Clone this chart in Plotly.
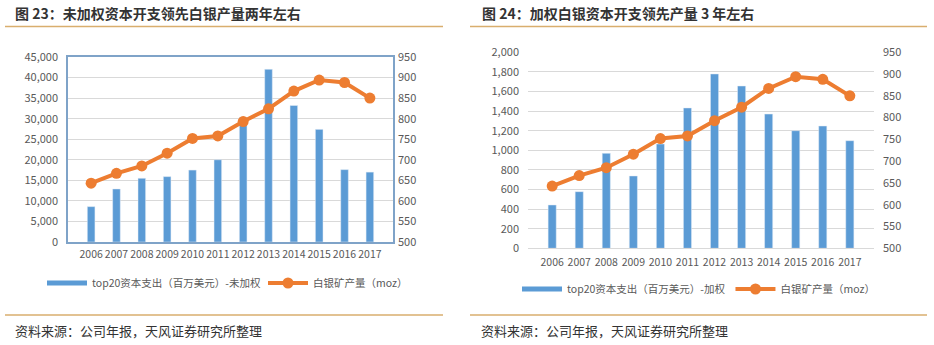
import plotly.graph_objects as go

years = ["2006", "2007", "2008", "2009", "2010", "2011", "2012", "2013", "2014", "2015", "2016", "2017"]
capex_unweighted = [8600, 12900, 15500, 15900, 17500, 20000, 30300, 42000, 33200, 27400, 17600, 17000]
capex_weighted = [442, 578, 969, 738, 1064, 1432, 1779, 1656, 1370, 1200, 1248, 1098]
silver_output = [643, 667, 685, 716, 752, 758, 793, 824, 867, 894, 888, 850]

title_left = "图 23：未加权资本开支领先白银产量两年左右"
title_right = "图 24：加权白银资本开支领先产量 3 年左右"
source_text = "资料来源：公司年报，天风证券研究所整理"
bar_name_left = "top20资本支出（百万美元）-未加权"
bar_name_right = "top20资本支出（百万美元）-加权"
line_name = "白银矿产量（moz）"

W, H = 934, 345
BLUE = "#5B9BD5"
ORANGE = "#ED7D31"
GRID = "#D9D9D9"
TICK = "#595959"
GOLD = "#D9AE6E"
FONT = "Noto Sans CJK SC"

def px(x):
    return x / W

def py(y):
    return 1 - y / H

fig = go.Figure()

# Left chart
fig.add_trace(go.Bar(x=years, y=capex_unweighted, marker_color=BLUE, showlegend=False,
                     xaxis="x", yaxis="y"))
fig.add_trace(go.Scatter(x=[None], y=[None], mode="lines", line=dict(color=BLUE, width=5),
                         name=bar_name_left, legend="legend", xaxis="x", yaxis="y"))
fig.add_trace(go.Scatter(x=years, y=silver_output, mode="lines+markers", name=line_name,
                         line=dict(color=ORANGE, width=4), marker=dict(size=11, color=ORANGE),
                         legend="legend", xaxis="x", yaxis="y2"))

# Right chart
fig.add_trace(go.Bar(x=years, y=capex_weighted, marker_color=BLUE, showlegend=False,
                     xaxis="x2", yaxis="y3"))
fig.add_trace(go.Scatter(x=[None], y=[None], mode="lines", line=dict(color=BLUE, width=5),
                         name=bar_name_right, legend="legend2", xaxis="x2", yaxis="y3"))
fig.add_trace(go.Scatter(x=years, y=silver_output, mode="lines+markers", name=line_name,
                         line=dict(color=ORANGE, width=4), marker=dict(size=11, color=ORANGE),
                         legend="legend2", xaxis="x2", yaxis="y4"))

tickfont = dict(family=FONT, size=11, color=TICK)
xtickfont = dict(family=FONT, size=10.5, color=TICK)
legfont = dict(family=FONT, size=10.5, color=TICK)

fig.update_layout(
    width=W, height=H, margin=dict(l=0, r=0, t=0, b=0, autoexpand=False),
    paper_bgcolor="white", plot_bgcolor="white",
    bargap=0.7,
    font=dict(family=FONT, color=TICK),
    xaxis=dict(domain=[px(68), px(393)], anchor="y", type="category", tickfont=xtickfont,
               tickangle=0, showline=True, mirror=True, linecolor="#7FA3C8", linewidth=1.5,
               ticks="", showgrid=False, ticklabelstandoff=2),
    yaxis=dict(domain=[py(242), py(57)], anchor="x", range=[0, 45000], dtick=5000,
               tickformat=",d", tickfont=tickfont, gridcolor=GRID, zeroline=False,
               showline=True, mirror=True, linecolor="#7FA3C8", linewidth=1.5, ticklabelstandoff=6),
    yaxis2=dict(overlaying="y", anchor="x", side="right", range=[500, 950], dtick=50,
                tickfont=tickfont, showgrid=False, zeroline=False, ticklabelstandoff=4),
    xaxis2=dict(domain=[px(528), px(874)], anchor="y3", type="category", tickfont=xtickfont,
                tickangle=0, showline=True, linecolor=GRID, ticks="", showgrid=False,
                ticklabelstandoff=4),
    yaxis3=dict(domain=[py(248.3), py(52.3)], anchor="x2", range=[0, 2000], dtick=200,
                tickformat=",d", tickfont=tickfont, gridcolor=GRID, zeroline=False,
                ticklabelstandoff=8),
    yaxis4=dict(overlaying="y3", anchor="x2", side="right", range=[500, 950], dtick=50,
                tickfont=tickfont, showgrid=False, zeroline=False, ticklabelstandoff=8),
    legend=dict(orientation="h", x=px(42), y=py(283), xanchor="left", yanchor="middle",
                font=legfont, itemwidth=40,
                entrywidth=166, entrywidthmode="pixels",
                bgcolor="rgba(0,0,0,0)"),
    legend2=dict(orientation="h", x=px(517), y=py(289), xanchor="left", yanchor="middle",
                 font=legfont, itemwidth=40,
                 bgcolor="rgba(0,0,0,0)"),
)

shapes = []
for x0, x1 in [(5, 443), (470, 927)]:
    shapes.append(dict(type="line", xref="paper", yref="paper", x0=px(x0), x1=px(x1),
                       y0=py(26.5), y1=py(26.5), line=dict(color=GOLD, width=1.5)))
    shapes.append(dict(type="line", xref="paper", yref="paper", x0=px(x0), x1=px(x1),
                       y0=py(315), y1=py(315), line=dict(color=GOLD, width=1.5)))
fig.update_layout(shapes=shapes)

annotations = [
    dict(text="<b>" + title_left + "</b>", x=px(13), y=py(13), xref="paper", yref="paper",
         xanchor="left", yanchor="middle", showarrow=False,
         font=dict(family=FONT, size=14, color="#333333")),
    dict(text="<b>" + title_right + "</b>", x=px(480), y=py(13), xref="paper", yref="paper",
         xanchor="left", yanchor="middle", showarrow=False,
         font=dict(family=FONT, size=14, color="#333333")),
    dict(text=source_text, x=px(13), y=py(330), xref="paper", yref="paper",
         xanchor="left", yanchor="middle", showarrow=False,
         font=dict(family=FONT, size=13, color="#333333")),
    dict(text=source_text, x=px(479), y=py(330), xref="paper", yref="paper",
         xanchor="left", yanchor="middle", showarrow=False,
         font=dict(family=FONT, size=13, color="#333333")),
]
fig.update_layout(annotations=annotations)

fig.write_html("out.html")
